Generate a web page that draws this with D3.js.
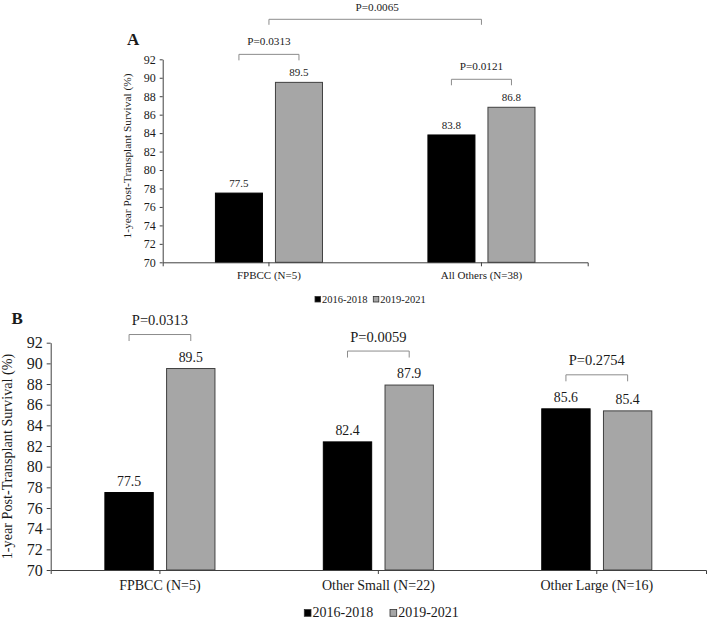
<!DOCTYPE html>
<html>
<head>
<meta charset="utf-8">
<script src="https://cdn.jsdelivr.net/npm/d3@7"></script>
<style>
  html, body { margin: 0; padding: 0; background: #fff; }
  svg { display: block; }
  text { font-family: "Liberation Serif", "Times New Roman", serif; fill: #1a1a1a; }
</style>
</head>
<body>
<svg id="chart" width="709" height="622"></svg>
<script>
// ---- data ----
const seriesNames = ["2016-2018", "2019-2021"];
const seriesColors = ["#000000", "#a6a6a6"];
const seriesStroke = ["#000000", "#404040"];

const categoriesA = ["FPBCC (N=5)", "All Others (N=38)"];
const valuesA2016 = [77.5, 83.8];
const valuesA2019 = [89.5, 86.8];
const pValuesA = ["P=0.0313", "P=0.0121"];
const pValueAcross = "P=0.0065";

const categoriesB = ["FPBCC (N=5)", "Other Small (N=22)", "Other Large (N=16)"];
const valuesB2016 = [77.5, 82.4, 85.6];
const valuesB2019 = [89.5, 87.9, 85.4];
const pValuesB = ["P=0.0313", "P=0.0059", "P=0.2754"];

const yTicks = [70, 72, 74, 76, 78, 80, 82, 84, 86, 88, 90, 92];
const yLabel = "1-year Post-Transplant Survival (%)";

const svg = d3.select("#chart");

function drawPanel(o) {
  const g = svg.append("g");
  const x0 = d3.scaleBand().domain(o.cats).range([o.left, o.right]).paddingInner(0).paddingOuter(0);
  const x1 = d3.scaleBand().domain(seriesNames).range([0, x0.bandwidth()]).paddingInner(0.2).paddingOuter(0.87);
  const y = d3.scaleLinear().domain([70, 92]).range([o.bottom, o.top]);

  const rows = o.cats.map((c, i) => ({ cat: c, vals: [o.v1[i], o.v2[i]], p: o.pvals[i] }));

  // bars
  rows.forEach(r => {
    r.vals.forEach((v, si) => {
      const bx = x0(r.cat) + x1(seriesNames[si]);
      g.append("rect")
        .attr("x", bx + 0.5).attr("y", y(v))
        .attr("width", x1.bandwidth() - 1).attr("height", y(70) - y(v))
        .attr("fill", seriesColors[si]).attr("stroke", seriesStroke[si]).attr("stroke-width", 1);
      g.append("text")
        .attr("x", bx + x1.bandwidth() / 2).attr("y", y(v) - o.valGap)
        .attr("text-anchor", "middle").style("font-size", o.valFont + "px")
        .text(v.toFixed(1));
    });
    // bracket
    const xa = x0(r.cat) + x1(seriesNames[0]) + x1.bandwidth() / 2;
    const xb = x0(r.cat) + x1(seriesNames[1]) + x1.bandwidth() / 2;
    const yl = y(d3.max(r.vals)) - o.brOff;
    g.append("path")
      .attr("d", `M${xa},${yl + o.drop}V${yl}H${xb}V${yl + o.drop}`)
      .attr("fill", "none").attr("stroke", "#8c8c8c").attr("stroke-width", 1);
    g.append("text")
      .attr("x", (xa + xb) / 2).attr("y", yl - o.pGap)
      .attr("text-anchor", "middle").style("font-size", o.pFont + "px")
      .text(r.p);
  });

  // y axis
  const ya = g.append("g").attr("transform", `translate(${o.left},0)`)
    .call(d3.axisLeft(y).tickValues(yTicks).tickSize(o.tick).tickSizeOuter(0).tickPadding(o.tickPad));
  ya.selectAll("path, line").attr("stroke", "#404040");
  ya.selectAll("text").style("font-size", o.tickFont + "px").attr("fill", "#1a1a1a")
    .style("font-family", '"Liberation Serif", "Times New Roman", serif');

  // x axis
  const xa = g.append("g").attr("transform", `translate(0,${o.bottom})`)
    .call(d3.axisBottom(x0).tickSize(4).tickSizeOuter(4).tickPadding(o.catPad));
  xa.selectAll("path, line").attr("stroke", "#404040");
  xa.selectAll("text").style("font-size", o.catFont + "px").attr("fill", "#1a1a1a")
    .style("font-family", '"Liberation Serif", "Times New Roman", serif');

  // y label
  g.append("text")
    .attr("transform", `translate(${o.ylx},${o.yly}) rotate(-90)`)
    .attr("text-anchor", "middle").attr("dominant-baseline", "central")
    .style("font-size", o.ylFont + "px")
    .text(yLabel);

  // panel letter
  g.append("text").attr("x", o.letterX).attr("y", o.letterY)
    .style("font-size", o.letterFont + "px").style("font-weight", "bold")
    .text(o.letter);

  // legend
  const lg = g.selectAll(".leg").data(seriesNames).enter().append("g")
    .attr("transform", (d, i) => `translate(${o.legX + i * o.legStep},${o.legY})`);
  lg.append("rect").attr("x", 0).attr("y", -o.legSq - 1)
    .attr("width", o.legSq).attr("height", o.legSq)
    .attr("fill", (d, i) => seriesColors[i]).attr("stroke", "#303030").attr("stroke-width", 0.8);
  lg.append("text").attr("x", o.legSq + 1.5).attr("y", 0)
    .style("font-size", o.legFont + "px").text(d => d);

  return { x0, y };
}

// Panel A
const A = drawPanel({
  cats: categoriesA, v1: valuesA2016, v2: valuesA2019, pvals: pValuesA,
  left: 162.7, right: 587.7, top: 59.3, bottom: 262.3,
  valFont: 11, valGap: 6, pFont: 11.2, brOff: 28, drop: 6, pGap: 9,
  tick: 3, tickPad: 4, tickFont: 12, catPad: 5, catFont: 11,
  ylx: 126.5, yly: 156, ylFont: 11.4,
  letter: "A", letterX: 127, letterY: 45, letterFont: 17,
  legX: 315, legY: 303, legStep: 58.3, legSq: 5.5, legFont: 10.5
});

// Cross-group bracket in panel A
(function () {
  const xa = A.x0(categoriesA[0]) + A.x0.bandwidth() / 2;
  const xb = A.x0(categoriesA[1]) + A.x0.bandwidth() / 2;
  const yl = A.y(92) - 40;
  svg.append("path")
    .attr("d", `M${xa},${yl + 5.5}V${yl}H${xb}V${yl + 5.5}`)
    .attr("fill", "none").attr("stroke", "#8c8c8c").attr("stroke-width", 1);
  svg.append("text").attr("x", (xa + xb) / 2 + 2).attr("y", yl - 8.5)
    .attr("text-anchor", "middle").style("font-size", "11.2px").text(pValueAcross);
})();

// Panel B
drawPanel({
  cats: categoriesB, v1: valuesB2016, v2: valuesB2019, pvals: pValuesB,
  left: 50.7, right: 706, top: 342.7, bottom: 570,
  valFont: 13.8, valGap: 7, pFont: 14.5, brOff: 34, drop: 6.5, pGap: 9.5,
  tick: 4, tickPad: 4, tickFont: 16, catPad: 6, catFont: 14,
  ylx: 7, yly: 456.5, ylFont: 14.2,
  letter: "B", letterX: 11.5, letterY: 323.5, letterFont: 17,
  legX: 304.3, legY: 617.3, legStep: 85.7, legSq: 6.7, legFont: 14
});
</script>
</body>
</html>
